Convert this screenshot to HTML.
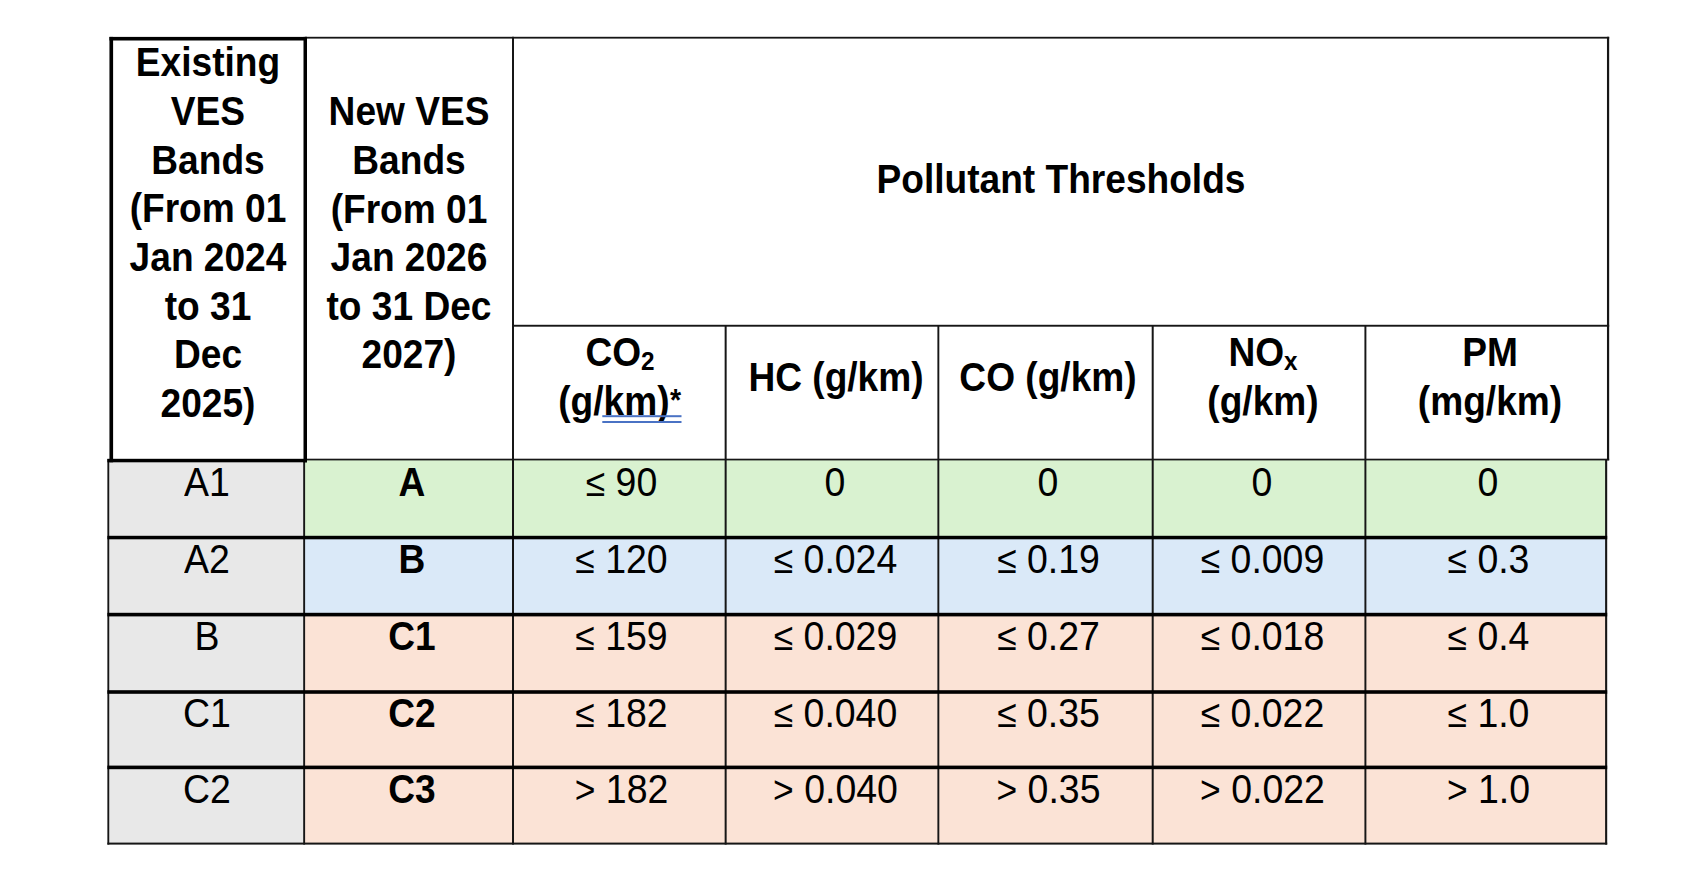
<!DOCTYPE html>
<html><head><meta charset="utf-8"><title>VES Bands</title>
<style>
html,body{margin:0;padding:0;background:#fff;}
body{width:1706px;height:884px;position:relative;overflow:hidden;font-family:"Liberation Sans",Arial,sans-serif;color:#000;}
.t{position:absolute;text-align:center;font-size:40.3px;line-height:48.64px;white-space:nowrap;transform:scaleX(0.9206);transform-origin:50% 50%;}
.b{font-weight:bold;}
sub{font-size:26.4px;line-height:0;vertical-align:-4.1px;}
.r{font-size:40.8px;transform:scaleX(0.9178);}
.o{font-size:38.6px;margin-left:1.1px;}
.a{font-size:31px;line-height:0;vertical-align:3.5px;margin:0 0.6px;}
</style></head><body>
<!-- backgrounds -->
<svg width="1706" height="884" viewBox="0 0 1706 884" style="position:absolute;left:0;top:0">
<rect x="108.30" y="460.00" width="195.85" height="383.60" fill="#e8e8e8"/>
<rect x="304.15" y="459.50" width="1302.00" height="78.00" fill="#d9f2d0"/>
<rect x="304.15" y="537.50" width="1302.00" height="77.10" fill="#dae9f8"/>
<rect x="304.15" y="614.60" width="1302.00" height="229.00" fill="#fbe3d6"/>
<rect x="107.38" y="459.00" width="1.85" height="385.60" fill="#161616"/>
<rect x="303.20" y="459.00" width="1.90" height="385.60" fill="#161616"/>
<rect x="512.00" y="36.80" width="2.00" height="807.80" fill="#161616"/>
<rect x="724.65" y="325.00" width="2.00" height="519.60" fill="#161616"/>
<rect x="937.40" y="325.00" width="1.90" height="519.60" fill="#161616"/>
<rect x="1151.70" y="325.00" width="2.00" height="519.60" fill="#161616"/>
<rect x="1364.43" y="325.00" width="1.95" height="519.60" fill="#161616"/>
<rect x="1605.10" y="459.00" width="2.10" height="385.60" fill="#161616"/>
<rect x="1606.97" y="36.80" width="2.20" height="423.50" fill="#161616"/>
<rect x="305.00" y="36.80" width="1304.17" height="1.80" fill="#161616"/>
<rect x="512.00" y="324.79" width="1097.17" height="1.90" fill="#161616"/>
<rect x="305.00" y="458.70" width="1304.17" height="1.70" fill="#161616"/>
<rect x="107.40" y="842.60" width="1499.80" height="2.00" fill="#161616"/>
<rect x="107.40" y="535.80" width="1499.80" height="3.50" fill="#000"/>
<rect x="107.40" y="612.80" width="1499.80" height="3.60" fill="#000"/>
<rect x="107.40" y="690.20" width="1499.80" height="3.60" fill="#000"/>
<rect x="107.40" y="765.60" width="1499.80" height="3.60" fill="#000"/>
<rect x="109.45" y="36.90" width="197.55" height="3.60" fill="#000"/>
<rect x="109.45" y="36.90" width="3.65" height="425.40" fill="#000"/>
<rect x="303.50" y="36.90" width="3.50" height="425.40" fill="#000"/>
<rect x="107.40" y="458.80" width="199.60" height="3.50" fill="#000"/>
</svg>

<!-- header text -->
<div class="t b" style="left:113.4px;top:39.3px;width:190px">Existing<br>VES<br>Bands<br>(From 01<br>Jan 2024<br>to 31<br>Dec<br>2025)</div>
<div class="t b" style="left:306.6px;top:88.22px;width:204px">New VES<br>Bands<br>(From 01<br>Jan 2026<br>to 31 Dec<br>2027)</div>
<div class="t b" style="left:560.5px;top:156.28px;width:1000px">Pollutant Thresholds</div>
<div class="t b" style="left:513.5px;top:329.18px;width:212px">CO<sub>2</sub><br>(g/km)<span class="a">*</span></div>
<div class="t b" style="left:730.4px;top:353.98px;width:212px">HC (g/km)</div>
<div class="t b" style="left:942.0px;top:353.98px;width:212px">CO (g/km)</div>
<div class="t b" style="left:1157.0px;top:329.18px;width:212px">NO<sub>x</sub><br>(g/km)</div>
<div class="t b" style="left:1370.0px;top:329.18px;width:240px">PM<br>(mg/km)</div>
<!-- data rows -->
<div class="t r" style="left:111.8px;top:457.68px;width:190px">A1</div>
<div class="t b" style="left:316.5px;top:459.18px;width:190px">A</div>
<div class="t r" style="left:525.9px;top:457.68px;width:190px"><span class="o">≤</span> 90</div>
<div class="t r" style="left:739.9px;top:457.68px;width:190px">0</div>
<div class="t r" style="left:952.8px;top:457.68px;width:190px">0</div>
<div class="t r" style="left:1167.1px;top:457.68px;width:190px">0</div>
<div class="t r" style="left:1393.4px;top:457.68px;width:190px">0</div>
<div class="t r" style="left:111.8px;top:534.68px;width:190px">A2</div>
<div class="t b" style="left:316.5px;top:536.18px;width:190px">B</div>
<div class="t r" style="left:525.9px;top:534.68px;width:190px"><span class="o">≤</span> 120</div>
<div class="t r" style="left:739.9px;top:534.68px;width:190px"><span class="o">≤</span> 0.024</div>
<div class="t r" style="left:952.8px;top:534.68px;width:190px"><span class="o">≤</span> 0.19</div>
<div class="t r" style="left:1167.1px;top:534.68px;width:190px"><span class="o">≤</span> 0.009</div>
<div class="t r" style="left:1393.4px;top:534.68px;width:190px"><span class="o">≤</span> 0.3</div>
<div class="t r" style="left:111.8px;top:611.68px;width:190px">B</div>
<div class="t b" style="left:316.5px;top:613.18px;width:190px">C1</div>
<div class="t r" style="left:525.9px;top:611.68px;width:190px"><span class="o">≤</span> 159</div>
<div class="t r" style="left:739.9px;top:611.68px;width:190px"><span class="o">≤</span> 0.029</div>
<div class="t r" style="left:952.8px;top:611.68px;width:190px"><span class="o">≤</span> 0.27</div>
<div class="t r" style="left:1167.1px;top:611.68px;width:190px"><span class="o">≤</span> 0.018</div>
<div class="t r" style="left:1393.4px;top:611.68px;width:190px"><span class="o">≤</span> 0.4</div>
<div class="t r" style="left:111.8px;top:688.88px;width:190px">C1</div>
<div class="t b" style="left:316.5px;top:690.38px;width:190px">C2</div>
<div class="t r" style="left:525.9px;top:688.88px;width:190px"><span class="o">≤</span> 182</div>
<div class="t r" style="left:739.9px;top:688.88px;width:190px"><span class="o">≤</span> 0.040</div>
<div class="t r" style="left:952.8px;top:688.88px;width:190px"><span class="o">≤</span> 0.35</div>
<div class="t r" style="left:1167.1px;top:688.88px;width:190px"><span class="o">≤</span> 0.022</div>
<div class="t r" style="left:1393.4px;top:688.88px;width:190px"><span class="o">≤</span> 1.0</div>
<div class="t r" style="left:111.8px;top:764.9px;width:190px">C2</div>
<div class="t b" style="left:316.5px;top:765.98px;width:190px">C3</div>
<div class="t r" style="left:525.9px;top:764.9px;width:190px"><span class="o">&gt;</span> 182</div>
<div class="t r" style="left:739.9px;top:764.9px;width:190px"><span class="o">&gt;</span> 0.040</div>
<div class="t r" style="left:952.8px;top:764.9px;width:190px"><span class="o">&gt;</span> 0.35</div>
<div class="t r" style="left:1167.1px;top:764.9px;width:190px"><span class="o">&gt;</span> 0.022</div>
<div class="t r" style="left:1393.4px;top:764.9px;width:190px"><span class="o">&gt;</span> 1.0</div>
<!-- spell-check double underline -->
<svg width="1706" height="884" viewBox="0 0 1706 884" style="position:absolute;left:0;top:0"><rect x="602.3" y="415.2" width="79.2" height="2.0" fill="#4a72c4"/><rect x="602.3" y="421.0" width="79.2" height="2.0" fill="#4a72c4"/></svg>
</body></html>
